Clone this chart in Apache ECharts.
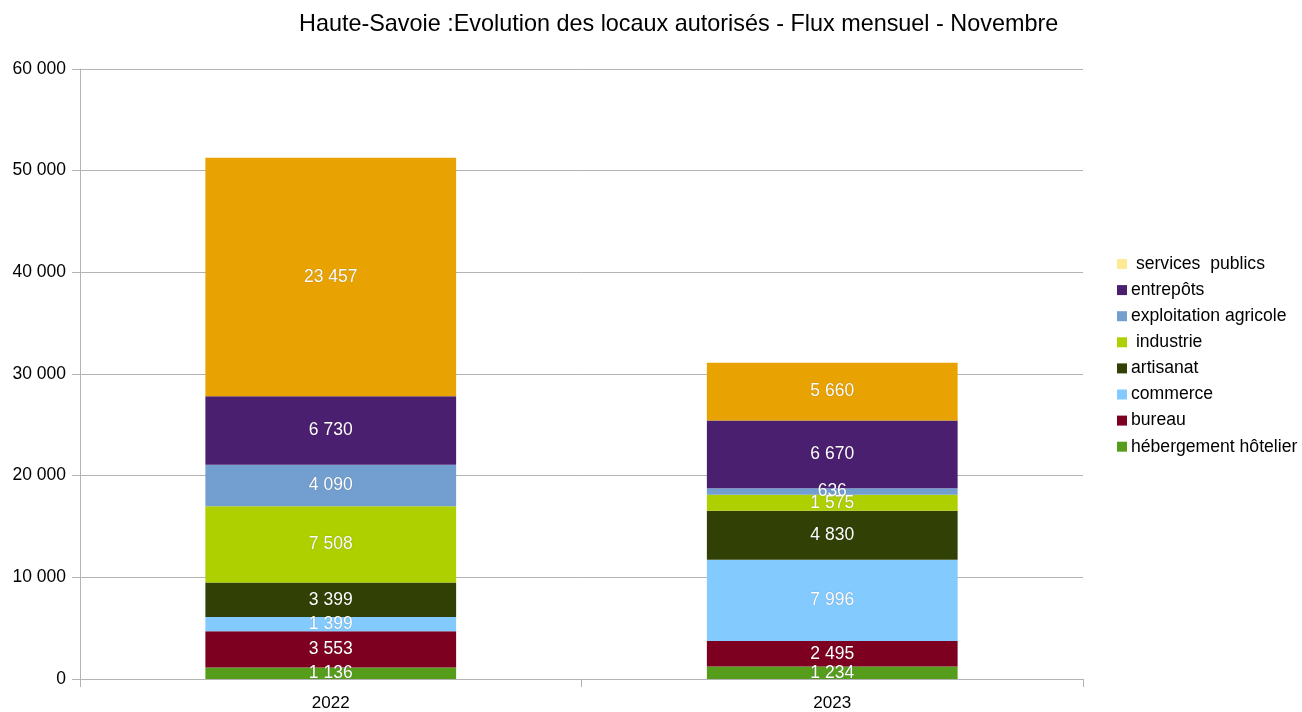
<!DOCTYPE html>
<html>
<head>
<meta charset="utf-8">
<script src="https://cdn.jsdelivr.net/npm/echarts@6/dist/echarts.min.js"></script>
<style>
  html, body { margin: 0; padding: 0; background: #fff; }
  #chart { width: 1302px; height: 712px; }
</style>
</head>
<body>
<div id="chart"></div>
<script>
// Data
const years = ['2022', '2023'];
const hebergement = [1136, 1234];
const bureau = [3553, 2495];
const commerce = [1399, 7996];
const artisanat = [3399, 4830];
const industrie = [7508, 1575];
const exploitation = [4090, 636];
const entrepots = [6730, 6670];
const servicesPublics = [0, 0];
const autres = [23457, 5660];

const legendNames = [' services  publics', 'entrepôts', 'exploitation agricole', ' industrie',
    'artisanat', 'commerce', 'bureau', 'hébergement hôtelier'];

const font = 'Liberation Sans, Arial, sans-serif';
const fmt = v => String(v).replace(/\B(?=(\d{3})+(?!\d))/g, ' ');

const chart = echarts.init(document.getElementById('chart'));

const makeSeries = (name, data, color) => ({
    name,
    type: 'bar',
    stack: 'total',
    data,
    barWidth: '50%',
    itemStyle: { color },
    label: {
        show: true,
        position: 'inside',
        color: '#fff',
        fontFamily: font,
        fontSize: 17.5,
        textBorderWidth: 0,
        textShadowColor: 'rgba(0,0,0,0.35)',
        textShadowBlur: 1,
        formatter: p => (p.value ? fmt(p.value) : ''),
    },
});

const option = {
    animation: false,
    title: {
        text: 'Haute-Savoie :Evolution des locaux autorisés - Flux mensuel - Novembre',
        left: 294,
        top: 8,
        textStyle: { fontFamily: font, fontSize: 23.4, fontWeight: 'normal', color: '#000' },
    },
    grid: { left: 80, right: 219, top: 69, bottom: 32 },
    legend: {
        data: legendNames,
        orient: 'vertical',
        left: 1112,
        top: 250,
        itemWidth: 10,
        itemHeight: 10,
        itemGap: 8.1,
        itemStyle: { borderWidth: 0 },
        icon: 'rect',
        textStyle: { fontFamily: font, fontSize: 17.6, color: '#000', padding: [0, 0, 0, -1] },
    },
    xAxis: {
        type: 'category',
        data: years,
        axisLine: { lineStyle: { color: '#b3b3b3' } },
        axisTick: { show: true, length: 8, lineStyle: { color: '#b3b3b3' } },
        axisLabel: { fontFamily: font, fontSize: 17, color: '#000', margin: 16 },
    },
    yAxis: {
        type: 'value',
        min: 0,
        max: 60000,
        interval: 10000,
        axisLine: { show: true, lineStyle: { color: '#b3b3b3' } },
        axisTick: { show: true, length: 8, lineStyle: { color: '#b3b3b3' } },
        splitLine: { lineStyle: { color: '#b3b3b3' } },
        axisLabel: { fontFamily: font, fontSize: 17.5, color: '#000', margin: 14, formatter: v => fmt(v) },
    },
    series: [
        makeSeries('hébergement hôtelier', hebergement, '#579d1c'),
        makeSeries('bureau', bureau, '#7e0021'),
        makeSeries('commerce', commerce, '#83caff'),
        makeSeries('artisanat', artisanat, '#314004'),
        makeSeries(' industrie', industrie, '#aecf00'),
        makeSeries('exploitation agricole', exploitation, '#729fcf'),
        makeSeries('entrepôts', entrepots, '#4b1f6f'),
        makeSeries(' services  publics', servicesPublics, '#ffe994'),
        makeSeries('autres', autres, '#e8a202'),
    ],
};

chart.setOption(option);
</script>
</body>
</html>
